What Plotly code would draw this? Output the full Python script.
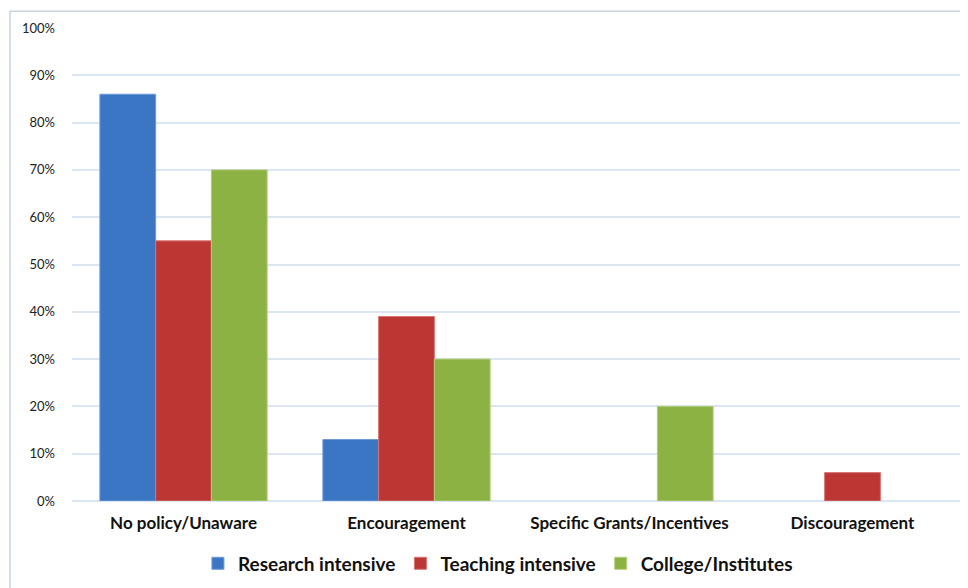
import plotly.graph_objects as go

categories = ["No policy/Unaware", "Encouragement", "Specific Grants/Incentives", "Discouragement"]
research = [0.86, 0.13, None, None]
teaching = [0.55, 0.39, None, 0.06]
college = [0.70, 0.30, 0.20, None]
series_names = ["Research intensive", "Teaching intensive", "College/Institutes"]
colors = ["#3A76C3", "#BC3634", "#8CB243"]
line_colors = ["#6E9BD6", "#D87472", "#B0CD78"]

fig = go.Figure()
for name, vals, c, lc in zip(series_names, [research, teaching, college], colors, line_colors):
    fig.add_trace(go.Bar(
        x=categories, y=vals, name=name,
        marker=dict(color=c, line=dict(color=lc, width=1)),
    ))

fig.update_layout(
    width=968, height=588,
    margin=dict(l=64, r=12, t=15, b=95),
    paper_bgcolor="white", plot_bgcolor="white",
    barmode="group", bargap=0.25, bargroupgap=0,
    font=dict(family="Lato, Open Sans, sans-serif", color="#222222"),
    showlegend=True,
    legend=dict(orientation="h", x=0.4775, xanchor="center", y=-0.132, yanchor="middle",
                font=dict(size=19, color="#111111", weight="bold"), itemwidth=30,
                traceorder="normal", tracegroupgap=0),
    xaxis=dict(showgrid=False, showline=False, ticks="", ticklen=0,
               tickfont=dict(size=17, color="#111111", weight="bold")),
    yaxis=dict(range=[0, 1.0], tickvals=[i / 10 for i in range(11)], tickformat=".0%",
               showgrid=True, gridcolor="#DCE6F2", gridwidth=2, zeroline=True,
               zerolinecolor="#DCE6F2", zerolinewidth=2, showline=False,
               ticks="", ticklabelstandoff=16, tickfont=dict(size=13, color="#222222")),
    shapes=[dict(type="rect", xref="paper", yref="paper",
                 x0=-62 / 892, x1=1.1, y0=-0.3, y1=1 + 17 / 478,
                 line=dict(color="#C8D3E0", width=1.5), fillcolor="rgba(0,0,0,0)", layer="below")],
)
fig.update_xaxes(ticklabelstandoff=10)

fig.write_html("out.html")
